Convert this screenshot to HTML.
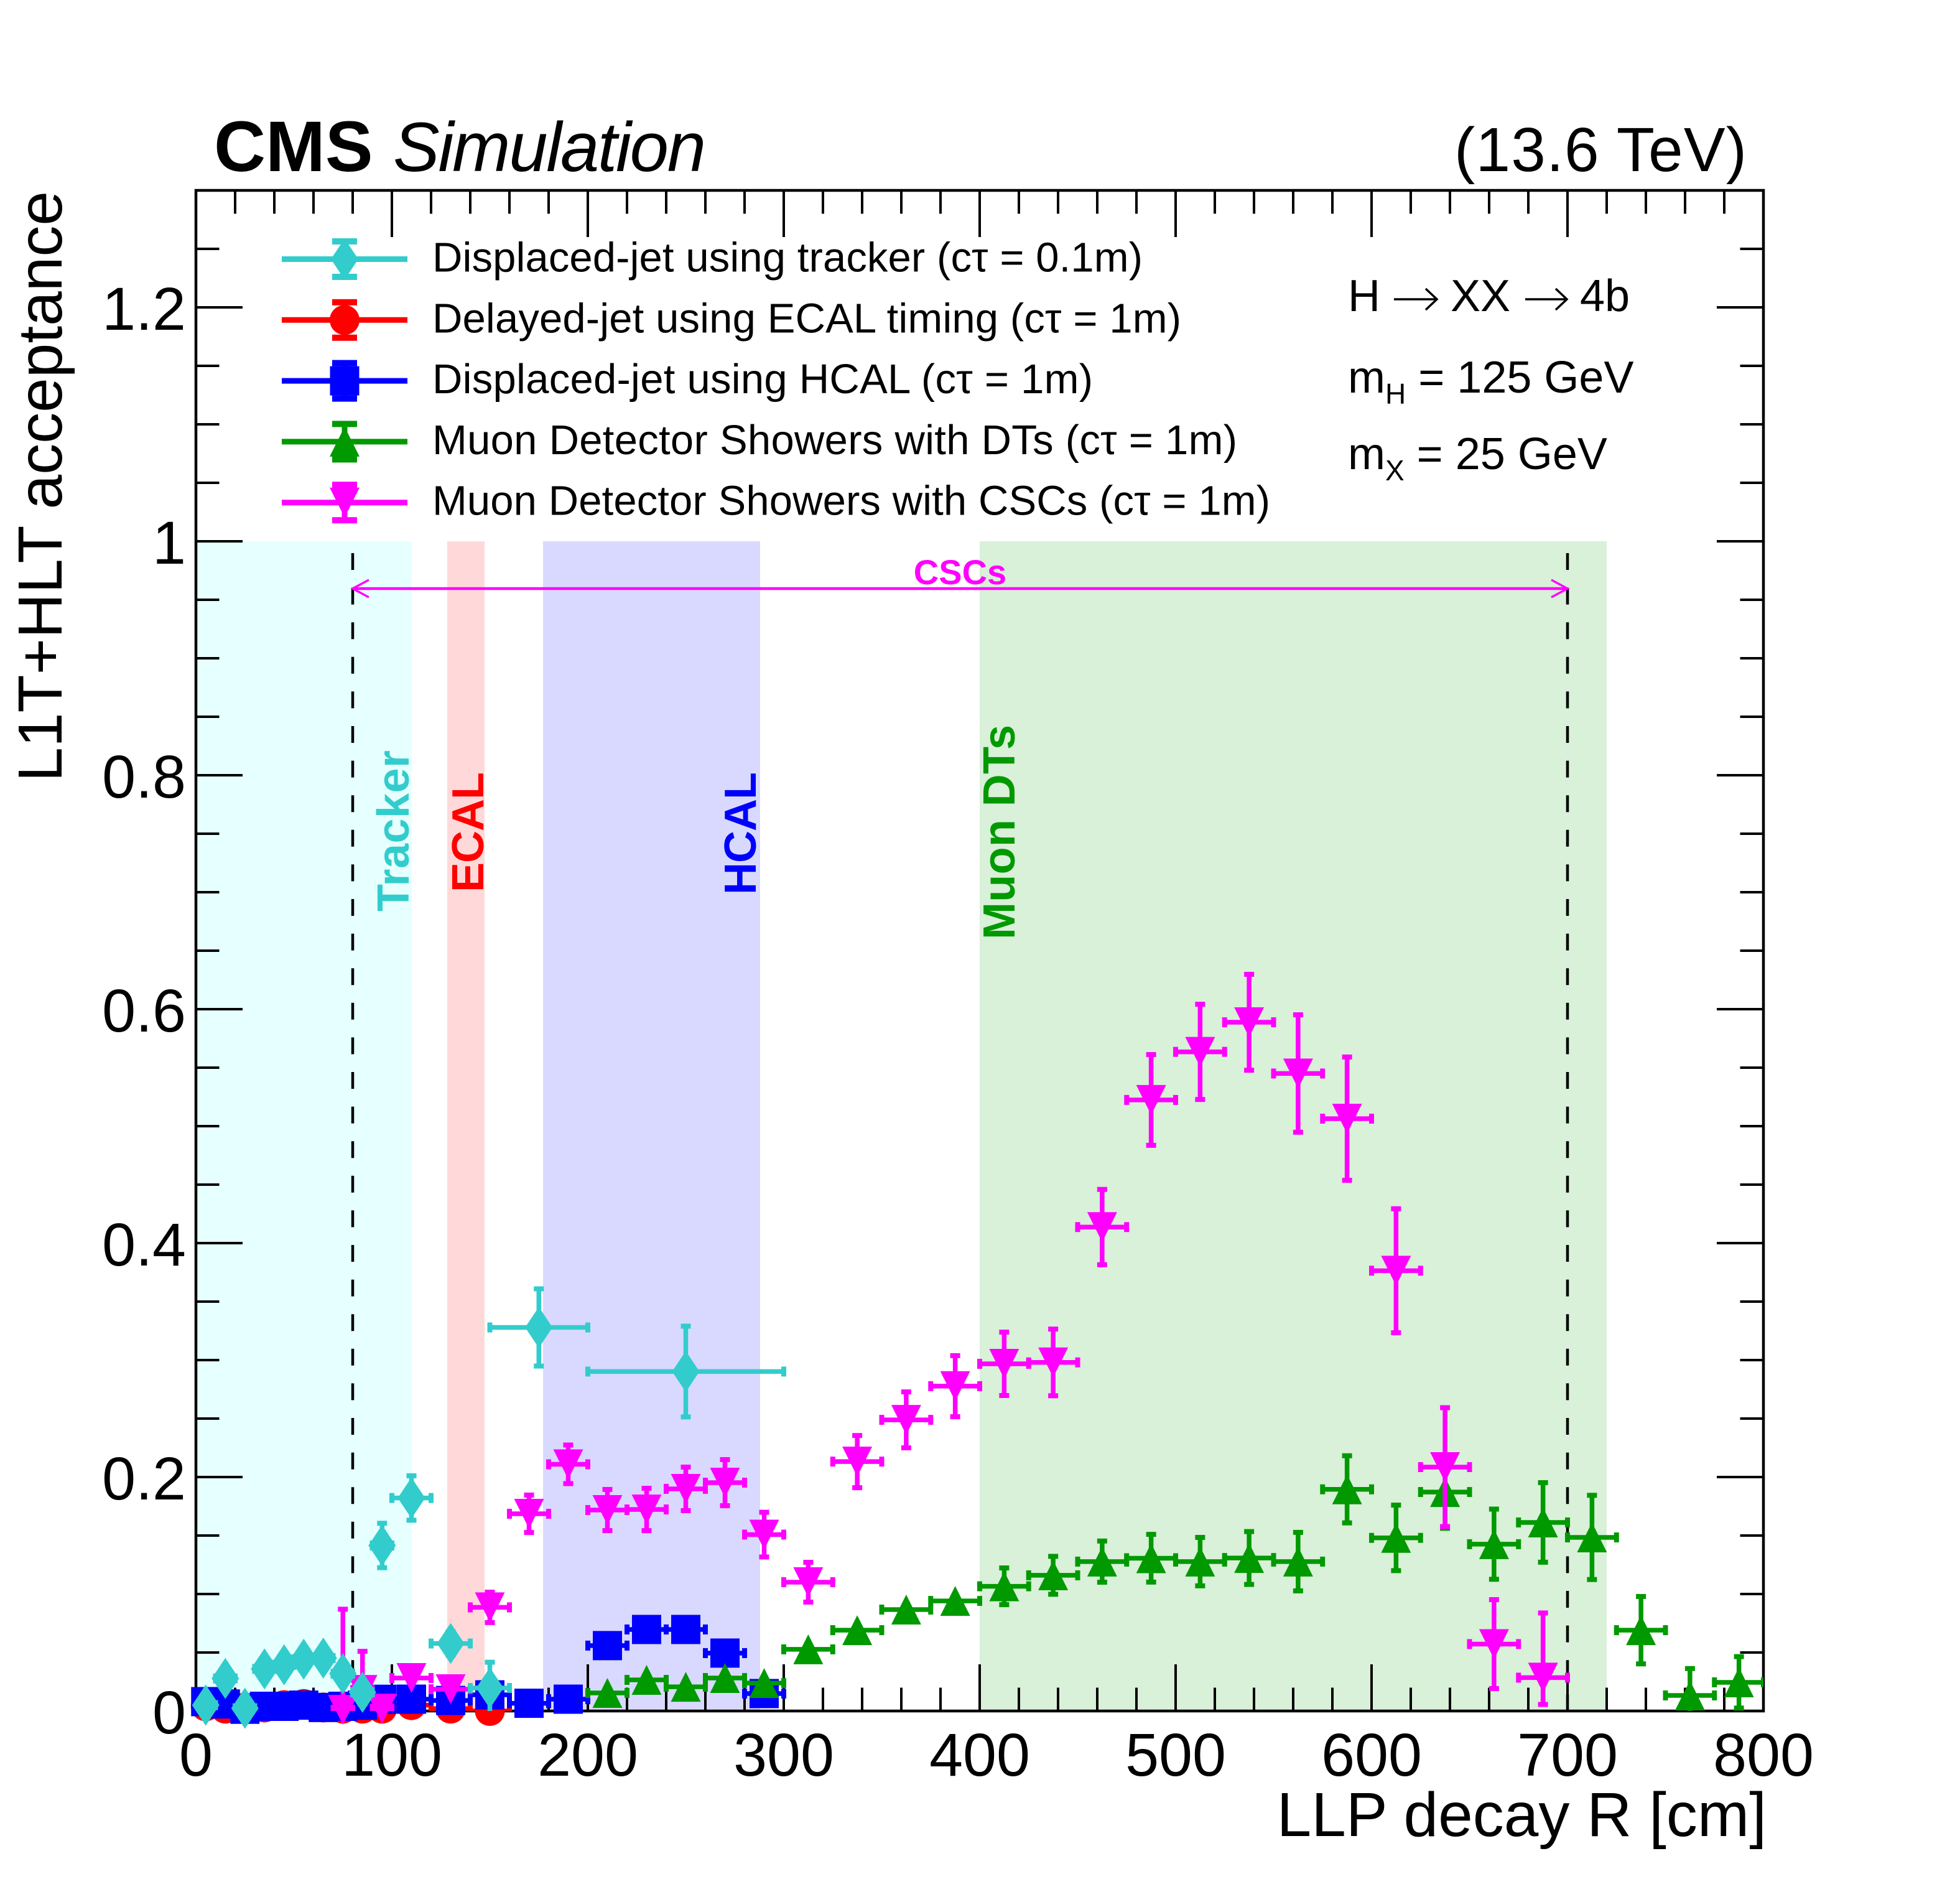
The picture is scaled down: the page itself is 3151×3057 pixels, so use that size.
<!DOCTYPE html>
<html>
<head>
<meta charset="utf-8">
<style>
html,body{margin:0;padding:0;background:#fff;}
svg{display:block;}
text{font-family:"Liberation Sans",Arial,Helvetica,sans-serif;}
</style>
</head>
<body>
<svg id="s" xmlns="http://www.w3.org/2000/svg" width="3151" height="3057" viewBox="0 0 3151 3057">
<defs>
<clipPath id="pc"><rect x="315" y="306" width="2520" height="2444"/></clipPath>
</defs>
<rect x="0" y="0" width="3151" height="3057" fill="#ffffff"/>

<!-- detector bands -->
<rect x="315" y="870" width="346.6" height="1880" fill="#e6ffff"/>
<rect x="719" y="870" width="60" height="1880" fill="#ffd9d9"/>
<rect x="873" y="870" width="349" height="1880" fill="#d9d9ff"/>
<rect x="1575" y="870" width="1008" height="1880" fill="#d9f0d9"/>

<!-- dashed CSC boundaries -->
<line x1="567" y1="889" x2="567" y2="2750" stroke="#000" stroke-width="4.5" stroke-dasharray="27 28.6"/>
<line x1="2520" y1="889" x2="2520" y2="2750" stroke="#000" stroke-width="4.5" stroke-dasharray="27 28.6"/>

<!-- CSC arrow -->
<line x1="567" y1="946" x2="2520" y2="946" stroke="#ff00ff" stroke-width="4.5"/>
<polyline points="593,932 567,946 593,960" fill="none" stroke="#ff00ff" stroke-width="3.5"/>
<polyline points="2494,932 2520,946 2494,960" fill="none" stroke="#ff00ff" stroke-width="3.5"/>
<text x="1543.5" y="939" font-size="56" font-weight="bold" fill="#ff00ff" text-anchor="middle">CSCs</text>

<!-- region labels -->
<text transform="translate(657,1465) rotate(-90)" font-size="72" font-weight="bold" fill="#33cccc" textLength="259">Tracker</text>
<text transform="translate(777,1434) rotate(-90)" font-size="72" font-weight="bold" fill="#ff0000" textLength="193">ECAL</text>
<text transform="translate(1215,1438) rotate(-90)" font-size="72" font-weight="bold" fill="#0000ff" textLength="197">HCAL</text>
<text transform="translate(1631,1510) rotate(-90)" font-size="72" font-weight="bold" fill="#009900" textLength="345">Muon DTs</text>

<!-- ticks and frame -->
<g id="ticks"></g>
<rect x="315" y="306" width="2520" height="2444" fill="none" stroke="#000" stroke-width="4.5"/>

<!-- data -->
<g id="data"></g>

<!-- axis labels -->
<g font-size="97" fill="#000">
<text x="299" y="2786" text-anchor="end">0</text>
<text x="299" y="2410" text-anchor="end">0.2</text>
<text x="299" y="2034" text-anchor="end">0.4</text>
<text x="299" y="1658" text-anchor="end">0.6</text>
<text x="299" y="1282" text-anchor="end">0.8</text>
<text x="299" y="906" text-anchor="end">1</text>
<text x="299" y="530" text-anchor="end">1.2</text>
<text x="315" y="2854" text-anchor="middle">0</text>
<text x="630" y="2854" text-anchor="middle">100</text>
<text x="945" y="2854" text-anchor="middle">200</text>
<text x="1260" y="2854" text-anchor="middle">300</text>
<text x="1575" y="2854" text-anchor="middle">400</text>
<text x="1890" y="2854" text-anchor="middle">500</text>
<text x="2205" y="2854" text-anchor="middle">600</text>
<text x="2520" y="2854" text-anchor="middle">700</text>
<text x="2835" y="2854" text-anchor="middle">800</text>
</g>
<text x="2840" y="2951" font-size="100" text-anchor="end">LLP decay R [cm]</text>
<text transform="translate(99,307) rotate(-90)" font-size="100" text-anchor="end">L1T+HLT acceptance</text>

<!-- header -->
<text x="344" y="275" font-size="115" font-weight="bold">CMS</text>
<text x="632" y="275" font-size="112" font-style="italic" textLength="503">Simulation</text>
<text x="2338" y="275" font-size="100" textLength="470">(13.6 TeV)</text>

<!-- info -->
<text y="500" font-size="72"><tspan x="2167">H</tspan><tspan x="2332">XX</tspan><tspan x="2540">4b</tspan></text>
<g stroke="#000" stroke-width="3.5" fill="none">
<line x1="2241" y1="481" x2="2309" y2="481"/>
<polyline points="2292,464 2310,481 2292,498"/>
<line x1="2452" y1="481" x2="2518" y2="481"/>
<polyline points="2501,464 2519,481 2501,498"/>
</g>
<text x="2167" y="631" font-size="72">m<tspan font-size="46" dy="18">H</tspan><tspan dy="-18"> = 125 GeV</tspan></text>
<text x="2167" y="754" font-size="72">m<tspan font-size="46" dy="18">X</tspan><tspan dy="-18"> = 25 GeV</tspan></text>

<!-- legend -->
<g id="legend"></g>
<g font-size="67" fill="#000">
<text x="695" y="436.5" textLength="1142">Displaced-jet using tracker (cτ = 0.1m)</text>
<text x="695" y="534.3" textLength="1204">Delayed-jet using ECAL timing (cτ = 1m)</text>
<text x="695" y="632.1" textLength="1062">Displaced-jet using HCAL (cτ = 1m)</text>
<text x="695" y="729.9" textLength="1294">Muon Detector Showers with DTs (cτ = 1m)</text>
<text x="695" y="827.7" textLength="1347">Muon Detector Showers with CSCs (cτ = 1m)</text>
</g>
</svg>

<script>
(function(){
const NS="http://www.w3.org/2000/svg";
function el(tag,attrs,parent){const e=document.createElementNS(NS,tag);for(const k in attrs)e.setAttribute(k,attrs[k]);parent.appendChild(e);return e;}
const X=R=>315+3.15*R, Y=v=>2750-1880*v;

// ticks
let d='';
for(let i=0;i<=40;i++){const x=X(i*20);const L=(i%5===0)?75:37.5;d+=`M${x},2750V${2750-L}M${x},306V${306+L}`;}
for(let i=0;i<=26;i++){const y=Y(i*0.05);const L=(i%4===0)?75:37.5;d+=`M315,${y}H${315+L}M2835,${y}H${2835-L}`;}
el('path',{d:d,stroke:'#000','stroke-width':4,fill:'none'},document.getElementById('ticks'));

function marker(type,x,y,col,parent){
  if(type==='diamond') el('polygon',{points:`${x},${y-33} ${x+22},${y} ${x},${y+33} ${x-22},${y}`,fill:col},parent);
  else if(type==='circle') el('circle',{cx:x,cy:y,r:24,fill:col},parent);
  else if(type==='square') el('rect',{x:x-23.5,y:y-23.5,width:47,height:47,fill:col},parent);
  else if(type==='up') el('polygon',{points:`${x},${y-24} ${x+24},${y+24} ${x-24},${y+24}`,fill:col},parent);
  else if(type==='down') el('polygon',{points:`${x-24},${y-24} ${x+24},${y-24} ${x},${y+24}`,fill:col},parent);
}

const dataG=document.getElementById('data');
function series(col,type,pts){
  const g=el('g',{},dataG);
  const eg=el('g',{'clip-path':'url(#pc)'},g);
  let p='';const caps=[];
  for(const q of pts){
    const R=q[0],dx=q[1],v=q[2],elo=q[3],ehi=(q.length>4?q[4]:q[3]);
    const x=X(R),y=Y(v),xl=X(R-dx),xh=X(R+dx),yl=Y(v-elo),yh=Y(v+ehi);
    if(x-xl>12){p+=`M${xl},${y}H${xh}`;caps.push([xl-4,y-8,8,16]);caps.push([xh-4,y-8,8,16]);}
    if(y-yh>12){p+=`M${x},${y}V${yh}`;caps.push([x-8,yh-4,16,8]);}
    if(yl-y>12){p+=`M${x},${y}V${yl}`;caps.push([x-8,yl-4,16,8]);}
  }
  if(p) el('path',{d:p,stroke:col,'stroke-width':7.5,fill:'none'},eg);
  for(const c of caps) el('rect',{x:c[0],y:c[1],width:c[2],height:c[3],fill:col},eg);
  const mg=el('g',{},g);
  for(const q of pts) marker(type,X(q[0]),Y(q[2]),col,mg);
}

const red=[[5,5,0.004,0.003],[15,5,0.002,0.003],[25,5,0.003,0.003],[35,5,0.003,0.003],[45,5,0.005,0.003],[55,5,0.006,0.003],[65,5,0.003,0.003],[75,5,0.002,0.003],[85,5,0.002,0.003],[95,5,0.002,0.003],[110,10,0.005,0.003],[130,10,0.002,0.003],[150,10,0.0,0.003]];
const blue=[[5,5,0.008,0.004],[15,5,0.006,0.004],[25,5,0.0015,0.004],[35,5,0.004,0.004],[45,5,0.004,0.004],[55,5,0.005,0.004],[65,5,0.003,0.004],[75,5,0.004,0.004],[85,5,0.005,0.004],[95,5,0.01,0.004],[110,10,0.0101,0.004],[130,10,0.009,0.004],[150,10,0.0138,0.004],[170,10,0.0066,0.004],[190,10,0.0101,0.004],[210,10,0.0559,0.004],[230,10,0.0697,0.004],[250,10,0.0697,0.004],[270,10,0.0495,0.004],[290,10,0.0149,0.004]];
const green=[[210,10,0.0154,0.004],[230,10,0.0266,0.004],[250,10,0.0207,0.004],[270,10,0.0282,0.004],[290,10,0.0239,0.004],[312.5,12.5,0.0527,0.005],[337.5,12.5,0.0691,0.005],[362.5,12.5,0.0867,0.006],[387.5,12.5,0.0941,0.006],[412.5,12.5,0.1066,0.0157],[437.5,12.5,0.116,0.0162],[462.5,12.5,0.1277,0.0176],[487.5,12.5,0.1306,0.0204],[512.5,12.5,0.1277,0.0207],[537.5,12.5,0.1308,0.0226],[562.5,12.5,0.1277,0.025],[587.5,12.5,0.1895,0.0287],[612.5,12.5,0.148,0.028],[637.5,12.5,0.1872,0.031],[662.5,12.5,0.1426,0.030],[687.5,12.5,0.1612,0.034],[712.5,12.5,0.1484,0.036],[737.5,12.5,0.0691,0.0288],[762.5,12.5,0.0133,0.023],[787.5,12.5,0.0245,0.022]];
const pink=[[75,5,0.001,0.001,0.086],[85,5,0.018,0.012,0.033],[95,5,0.002,0.002,0.008],[110,10,0.0282,0.006],[130,10,0.0186,0.006],[150,10,0.0886,0.013],[170,10,0.1686,0.016],[190,10,0.2109,0.0165],[210,10,0.1718,0.0176],[230,10,0.1723,0.0181],[250,10,0.1899,0.0186],[270,10,0.1952,0.0197],[290,10,0.1508,0.0191],[312.5,12.5,0.1101,0.017],[337.5,12.5,0.2132,0.0223],[362.5,12.5,0.2489,0.0239],[387.5,12.5,0.2777,0.0261],[412.5,12.5,0.2968,0.0271],[437.5,12.5,0.298,0.0285],[462.5,12.5,0.4137,0.0322],[487.5,12.5,0.5224,0.0388],[512.5,12.5,0.5635,0.0407],[537.5,12.5,0.5888,0.041],[562.5,12.5,0.545,0.0502],[587.5,12.5,0.5064,0.0527],[612.5,12.5,0.3764,0.053],[637.5,12.5,0.2085,0.0508],[662.5,12.5,0.0572,0.038],[687.5,12.5,0.0285,0.0229,0.0553]];
const cyan=[[5,5,0.005,0.005],[15,5,0.0278,0.005],[25,5,0.0023,0.005],[35,5,0.036,0.005],[45,5,0.0395,0.005],[55,5,0.0443,0.005],[65,5,0.0452,0.005],[75,5,0.0319,0.005],[85,5,0.016,0.005],[95,5,0.1415,0.019],[110,10,0.1821,0.019],[130,10,0.0577,0.01],[150,10,0.0197,0.022],[175,25,0.3279,0.033],[250,50,0.2902,0.0388]];

series('#ff0000','circle',red);
series('#0000ff','square',blue);
series('#009900','up',green);
series('#ff00ff','down',pink);
series('#33cccc','diamond',cyan);

// legend
const lg=document.getElementById('legend');
const rows=[[416.5,'#33cccc','diamond'],[514.3,'#ff0000','circle'],[612.1,'#0000ff','square'],[709.9,'#009900','up'],[807.7,'#ff00ff','down']];
for(const r of rows){
  const y=r[0],c=r[1];
  el('line',{x1:453,y1:y,x2:655,y2:y,stroke:c,'stroke-width':9},lg);
  el('line',{x1:554,y1:y-29,x2:554,y2:y+29,stroke:c,'stroke-width':9},lg);
  el('rect',{x:534,y:y-33.5,width:40,height:10,fill:c},lg);
  el('rect',{x:534,y:y+23.5,width:40,height:10,fill:c},lg);
  marker(r[2],554,y,c,lg);
}
})();
</script>
</body>
</html>
